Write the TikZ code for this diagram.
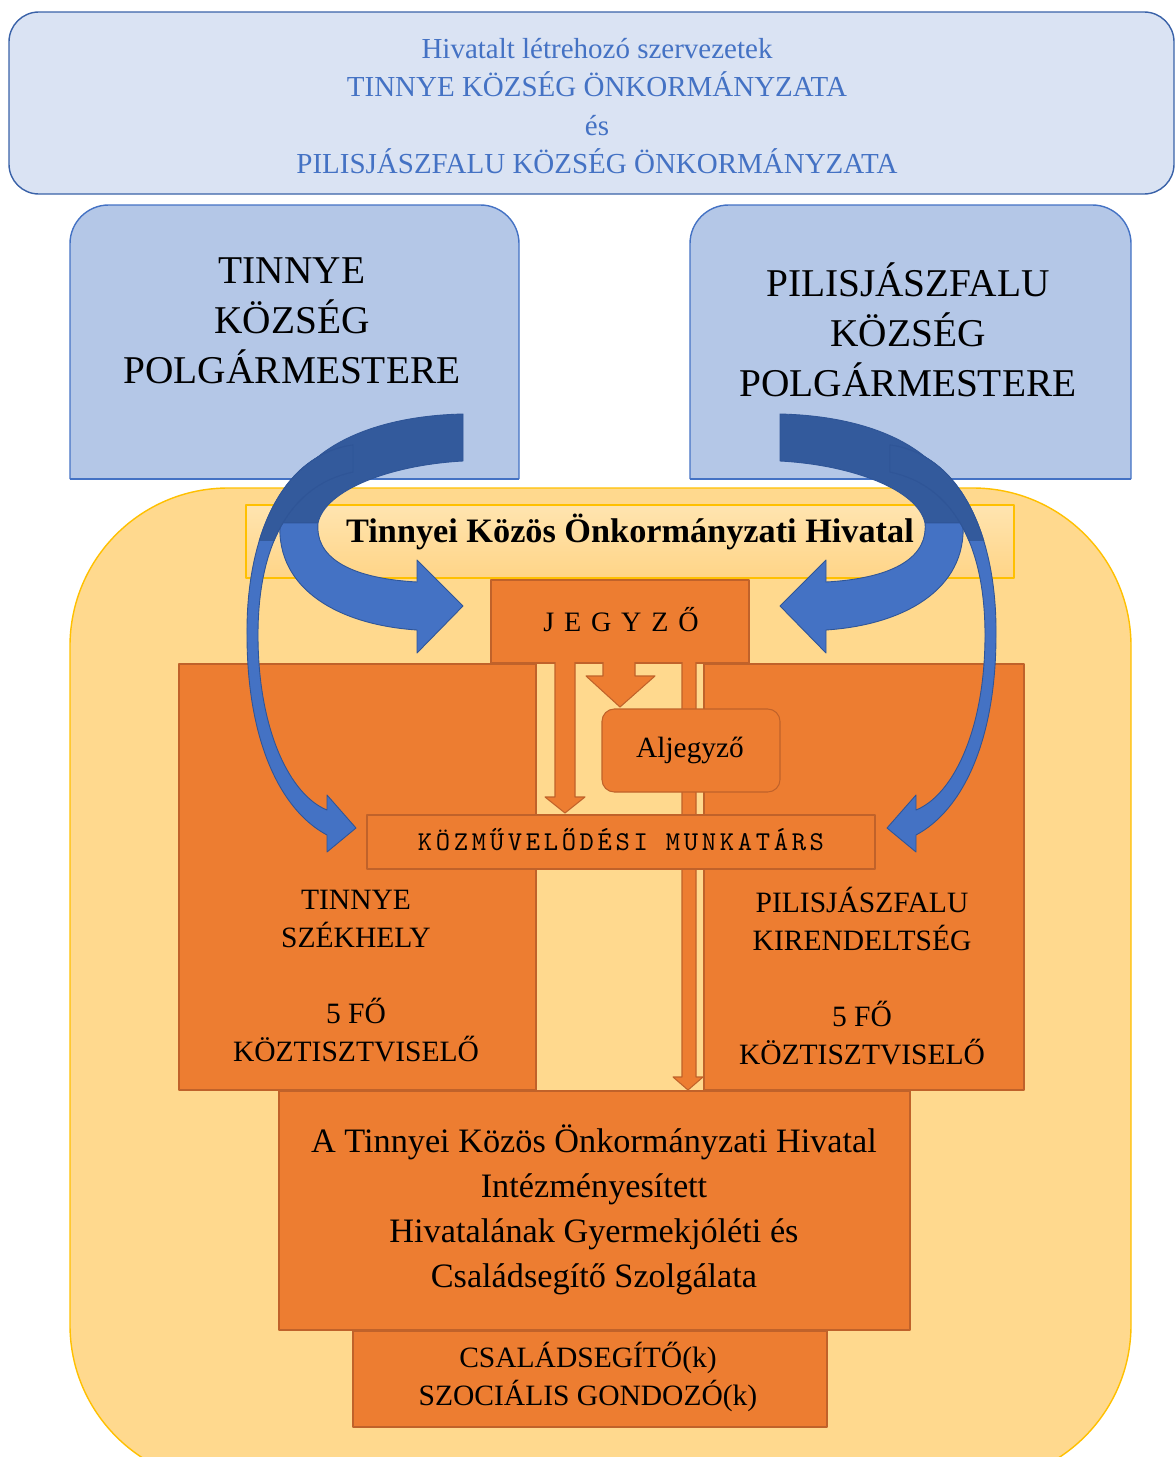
\documentclass[tikz,border=0pt]{standalone}
\usepackage{fontspec}
\setmainfont{Liberation Serif}
\newfontfamily\kozmufont[LetterSpace=13.5]{lmmono10-regular.otf}
\usepackage{xcolor}
\definecolor{topfill}{HTML}{DAE3F3}
\definecolor{topline}{HTML}{3A62A8}
\definecolor{toptextc}{HTML}{4472C4}
\definecolor{mayorfill}{HTML}{B4C7E7}
\definecolor{mayorline}{HTML}{4472C4}
\definecolor{hivfill}{HTML}{FFD98E}
\definecolor{hivline}{HTML}{FFC000}
\definecolor{orangefill}{HTML}{ED7D31}
\definecolor{orangeline}{HTML}{C0622A}
\definecolor{bluelightc}{HTML}{4472C4}
\definecolor{bluedarkc}{HTML}{335A9C}
\definecolor{blueline}{HTML}{2F5597}

\tikzset{
  topbox/.style={fill=topfill,draw=topline,line width=0.8pt},
  mayorbox/.style={fill=mayorfill,draw=mayorline,line width=0.8pt},
  hivbox/.style={fill=hivfill,draw=hivline,line width=0.8pt},
  orangebox/.style={fill=orangefill,draw=orangeline,line width=0.6pt},
  bluelight/.style={fill=bluelightc,draw=blueline,line width=0.5pt},
  bluedark/.style={fill=bluedarkc,draw=blueline,line width=0.5pt},
  toptext/.style={text=toptextc,align=center,font=\fontsize{16.5}{21.7}\selectfont},
  mayortext/.style={align=center,font=\fontsize{22.4}{28.6}\selectfont},
  boxtext/.style={align=center,font=\fontsize{16.8}{21.7}\selectfont}
}

% thin blue arrow, left side
\def\thinpath{(353,445) .. controls (280,455) and (246,540) .. (247,635)
  .. controls (247,740) and (280,810) .. (327,835) -- (327,852) -- (356,828)
  -- (327,795) -- (327,810) .. controls (290,795) and (258,730) .. (258,635)
  .. controls (258,545) and (290,485) .. (353,472) -- cycle}

\newcommand{\leftbluearrows}{%
  % big arrow, back part
  \filldraw[bluedark] (463,414) .. controls (370,416) and (290,450) .. (280,523)
    -- (318,523) .. controls (325,490) and (390,465) .. (463,461) -- cycle;
  % big arrow, front part
  \filldraw[bluelight] (280,523) .. controls (276,590) and (340,625) .. (417,630)
    -- (417,653) -- (463,606) -- (417,560) -- (417,582)
    .. controls (345,578) and (315,555) .. (318,523) -- cycle;
  % thin arrow
  \filldraw[bluelight] \thinpath;
  \begin{scope}
    \clip (0,0) rectangle (1176,540);
    \filldraw[bluedark] \thinpath;
  \end{scope}
}

\begin{document}
\begin{tikzpicture}[x=0.02cm,y=-0.02cm,line join=round]
\useasboundingbox (0,0) rectangle (1176,1457);

% founders
\filldraw[topbox,rounded corners=17pt] (9,12) rectangle (1174,194);
\node[toptext] (alapitok) at (597,106) {Hivatalt létrehozó szervezetek\\TINNYE KÖZSÉG ÖNKORMÁNYZATA\\és\\PILISJÁSZFALU KÖZSÉG ÖNKORMÁNYZATA};

% mayors
\filldraw[mayorbox,rounded corners=22pt] (70,479) -- (70,205) -- (519,205) -- (519,479);
\draw[mayorbox] (70,479) -- (519,479);
\filldraw[mayorbox,rounded corners=22pt] (690,479) -- (690,205) -- (1131,205) -- (1131,479);
\draw[mayorbox] (690,479) -- (1131,479);
\node[mayortext] (tpolg) at (292,321) {TINNYE\\KÖZSÉG\\POLGÁRMESTERE};
\node[mayortext] (ppolg) at (908,330) {PILISJÁSZFALU\\KÖZSÉG\\POLGÁRMESTERE};

% office
\filldraw[hivbox,rounded corners=90pt] (70,488) rectangle (1131,1483);
\draw[draw=hivline,line width=0.8pt,top color=hivfill!70!white,bottom color=hivfill!95!orange] (246,505) rectangle (1014,578);
\node[font=\fontsize{19.5}{23}\selectfont\bfseries] (hivatal) at (630,532) {Tinnyei Közös Önkormányzati Hivatal};

\filldraw[orangebox] (179,664) rectangle (536,1090);
\filldraw[orangebox] (704,664) rectangle (1024,1090);
\filldraw[orangebox] (491,580) rectangle (749,663);
\node[font=\fontsize{16}{19}\selectfont\addfontfeatures{LetterSpace=35}] (jegyzo) at (621,620) {JEGYZŐ};

% inner block arrows
\filldraw[orangebox] (555,662) -- (555,797) -- (545,797) -- (565,813) -- (585,797) -- (575,797) -- (575,662);
\filldraw[orangebox] (603,662) -- (603,676) -- (586,676) -- (620,707) -- (655,676) -- (635,676) -- (635,662);
\filldraw[orangebox] (682,662) -- (682,1077) -- (673,1077) -- (688,1090) -- (703,1077) -- (696,1077) -- (696,662);

\filldraw[orangebox,rounded corners=7pt] (602,709) rectangle (780,792);
\node[font=\fontsize{16.7}{20}\selectfont] (aljegyzo) at (690,750) {Aljegyző};

\filldraw[orangebox] (367,815) rectangle (875,869);
\node[font=\fontsize{15.5}{18}\kozmufont] (kozmuv) at (621,840) {KÖZMŰVELŐDÉSI MUNKATÁRS};

\node[boxtext] (szekhely) at (356,976) {TINNYE\\SZÉKHELY\\[21.7pt]5 FŐ\\KÖZTISZTVISELŐ};
\node[boxtext] (kirend) at (862,976) {PILISJÁSZFALU\\KIRENDELTSÉG\\[21.7pt]5 FŐ\\KÖZTISZTVISELŐ};

\filldraw[orangebox] (279,1091) rectangle (910,1330);
\node[align=center,font=\fontsize{19.5}{25.7}\selectfont] (szolgalat) at (594,1210) {A Tinnyei Közös Önkormányzati Hivatal\\Intézményesített\\Hivatalának Gyermekjóléti és\\Családsegítő Szolgálata};
\filldraw[orangebox] (353,1331) rectangle (827,1427);
\node[boxtext] (segitok) at (588,1377) {CSALÁDSEGÍTŐ(k)\\SZOCIÁLIS GONDOZÓ(k)};

% curved arrows from the mayors
\leftbluearrows
\begin{scope}[shift={(1243,0)},xscale=-1]
\leftbluearrows
\end{scope}
\end{tikzpicture}
\end{document}
